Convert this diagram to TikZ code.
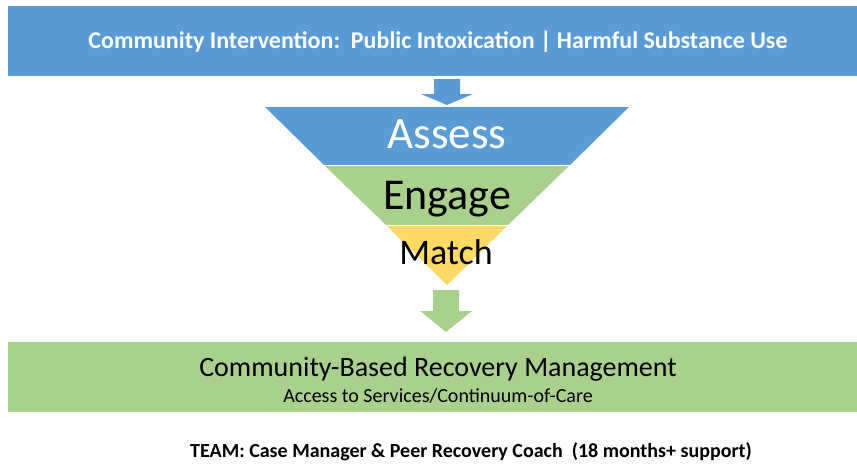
\documentclass[tikz,border=0pt]{standalone}
\usepackage{fontspec}
\setmainfont{Carlito}
\definecolor{stepblue}{HTML}{5B9BD5}
\definecolor{stepgreen}{HTML}{A9D18E}
\definecolor{stepyellow}{HTML}{FFD966}

\begin{document}
\begin{tikzpicture}[x=1pt,y=-1pt,
    band/.style={inner sep=0pt,minimum width=849pt,minimum height=70pt},
    funneltext/.style={anchor=base,inner sep=0pt}]
    \useasboundingbox (0,0) rectangle (857,466);
    % top and bottom bands
    \node[band,fill=stepblue] (intervention) at (432.5,41) {};
    \node[anchor=base,text=white,font=\bfseries\fontsize{24}{28}\selectfont] (interventiontext) at (438,48)
      {Community Intervention:\ \ Public Intoxication | Harmful Substance Use};
    \node[band,fill=stepgreen] (recovery) at (432.5,377) {};
    \node[anchor=base,font=\fontsize{28}{32}\selectfont] (recoverytitle) at (438,376)
      {Community-Based Recovery Management};
    \node[anchor=base,font=\fontsize{20}{24}\selectfont] (recoverysub) at (438,402)
      {Access to Services/Continuum-of-Care};
    % funnel
    \fill[stepblue] (265,107) -- (629,107) -- (570,165) -- (324,165) -- cycle;
    \fill[stepgreen] (324,165) -- (570,165) -- (508,225) -- (386,225) -- cycle;
    \fill[stepyellow] (386,225) -- (508,225) -- (447,285) -- cycle;
    \draw[white,thin] (324,165) -- (570,165) (386,225) -- (508,225);
    \node[funneltext,text=white,font=\fontsize{45}{50}\selectfont] (assess) at (447,148) {Assess};
    \node[funneltext,font=\fontsize{44}{50}\selectfont] (engage) at (447,209) {Engage};
    \node[funneltext,font=\fontsize{36}{40}\selectfont] (match) at (446,264) {Match};
    % block arrows
    \fill[stepblue] (434,79) -- (460,79) -- (460,94) -- (473,94) -- (447,105) -- (421,94) -- (434,94) -- cycle;
    \fill[stepgreen] (433,290) -- (459,290) -- (459,311) -- (472,311) -- (446,332) -- (420,311) -- (433,311) -- cycle;
    % team line
    \node[anchor=base,font=\bfseries\fontsize{20}{24}\selectfont] (team) at (471,457)
      {TEAM: Case Manager \& Peer Recovery Coach\ \ (18 months+ support)};
  \end{tikzpicture}
\end{document}
